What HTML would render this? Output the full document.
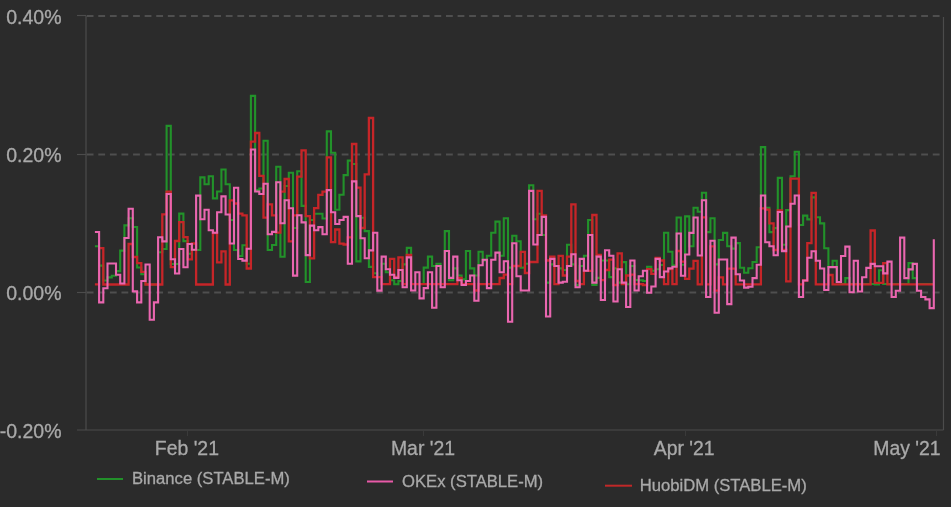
<!DOCTYPE html>
<html><head><meta charset="utf-8">
<style>
html,body{margin:0;padding:0;background:#2b2b2b;}
body{width:951px;height:507px;overflow:hidden;}
svg{display:block;filter:blur(0.3px);}
text{font-family:"Liberation Sans",sans-serif;fill:#a9a9a9;stroke:#a9a9a9;stroke-width:0.3px;}
.t{will-change:transform;}
</style></head><body>
<svg width="951" height="507" viewBox="0 0 951 507">
<rect width="951" height="507" fill="#2b2b2b"/>
<g stroke="#4f4f4f" stroke-width="2" stroke-dasharray="6.8 4.79" fill="none">
<line x1="86.7" y1="16" x2="943" y2="16"/>
<line x1="86.7" y1="154.5" x2="943" y2="154.5"/>
<line x1="86.7" y1="292.5" x2="943" y2="292.5"/>
</g>
<g stroke="#4c4c4c" stroke-width="1.2" fill="none">
<line x1="86" y1="16" x2="86" y2="430"/>
<line x1="77" y1="430" x2="943.5" y2="430"/>
<line x1="943.5" y1="17" x2="943.5" y2="430"/>
<line x1="77" y1="15.5" x2="86" y2="15.5"/>
<line x1="77" y1="154.5" x2="86" y2="154.5"/>
<line x1="77" y1="292.5" x2="86" y2="292.5"/>
</g>
<g stroke="#3a3a3a" stroke-width="1" fill="none">
<line x1="187.5" y1="431" x2="187.5" y2="436"/>
<line x1="423.5" y1="431" x2="423.5" y2="436"/>
<line x1="685.5" y1="431" x2="685.5" y2="436"/>
<line x1="936.5" y1="431" x2="936.5" y2="436"/>
</g>
<!--LINES--><path d="M94.9,246.2H99.1V265.6H103.3V280.5H107.5V277.4H111.8V275.8H116.0V271.1H120.2V250.6H124.4V225.4H128.6V218.3H132.8V227.0H137.1V267.5H141.3V274.2H145.5V284.3H149.7V284.5H153.9V284.5H158.1V252.2H162.3V249.0H166.6V125.9H170.8V264.0H175.0V264.0H179.2V213.6H183.4V241.1H187.6V253.7H191.9V250.0H196.1V250.0H200.3V177.4H204.5V184.2H208.7V176.3H212.9V198.4H217.1V191.5H221.4V169.5H225.6V184.2H229.8V220.0H234.0V250.0H238.2V256.0H242.4V245.3H246.7V263.8H250.9V95.9H255.1V190.0H259.3V188.5H263.5V140.8H267.7V250.0H272.0V245.0H276.2V166.8H280.4V256.7H284.6V186.0H288.8V172.7H293.0V228.0H297.2V171.2H301.5V205.9H305.7V282.0H309.9V220.0H314.1V213.7H318.3V213.7H322.5V218.5H326.8V131.4H331.0V152.7H335.2V209.8H339.4V194.8H343.6V175.1H347.8V160.6H352.0V164.0H356.3V261.4H360.5V217.7H364.7V231.1H368.9V266.9H373.1V273.2H377.3V277.0H381.6V263.7H385.8V272.3H390.0V280.2H394.2V284.2H398.4V281.0H402.6V264.4H406.8V247.9H411.1V284.0H415.3V284.0H419.5V284.0H423.7V267.6H427.9V256.6H432.1V266.0H436.4V263.7H440.6V284.0H444.8V231.1H449.0V280.2H453.2V268.4H457.4V275.5H461.6V279.4H465.9V251.0H470.1V268.4H474.3V275.5H478.5V251.8H482.7V260.5H486.9V255.8H491.2V232.7H495.4V221.6H499.6V255.8H503.8V218.2H508.0V267.6H512.2V235.8H516.4V241.3H520.7V267.6H524.9V263.7H529.1V185.3H533.3V219.3H537.5V213.7H541.7V235.0H546.0V282.6H550.2V264.4H554.4V266.0H558.6V268.4H562.8V270.0H567.0V244.7H571.3V264.4H575.5V285.0H579.7V266.0H583.9V255.8H588.1V220.0H592.3V285.0H596.5V277.9H600.8V260.5H605.0V260.5H609.2V277.1H613.4V268.4H617.6V282.6H621.8V262.1H626.1V284.2H630.3V266.0H634.5V280.0H638.7V280.2H642.9V281.0H647.1V266.8H651.3V270.8H655.6V269.2H659.8V265.0H664.0V232.7H668.2V251.8H672.4V265.2H676.6V217.5H680.9V264.7H685.1V216.4H689.3V246.3H693.5V207.7H697.7V211.7H701.9V192.8H706.1V232.1H710.4V218.3H714.6V264.4H718.8V240.0H723.0V232.9H727.2V246.3H731.4V248.6H735.7V243.1H739.9V267.8H744.1V272.8H748.3V268.2H752.5V262.0H756.7V247.3H760.9V147.1H765.2V207.7H769.4V232.1H773.6V228.1H777.8V177.9H782.0V244.7H786.2V210.1H790.5V176.3H794.7V151.8H798.9V225.0H803.1V215.6H807.3V219.4H811.5V197.4H815.8V217.2H820.0V223.4H824.2V248.2H828.4V267.0H832.6V260.8H836.8V282.0H841.0V284.0H845.3V278.1H849.5V284.0H853.7V284.0H857.9V284.0H862.1V284.0H866.3V284.0H870.6V284.0H874.8V284.4H879.0V270.2H883.2V284.0H887.4V284.0H891.6V284.0H895.8V284.0H900.1V284.0H904.3V284.0H908.5V263.1H912.7V278.1H916.9V284.0H921.1V284.0H925.4V284.0H929.6V284.0H933.8V284.0" stroke="#22922a" stroke-width="2.1" fill="none"/>
<path d="M94.9,284.3H99.1V248.2H103.3V284.5H107.5V284.5H111.8V284.5H116.0V284.5H120.2V284.5H124.4V284.5H128.6V244.0H132.8V257.0H137.1V263.2H141.3V271.9H145.5V284.5H149.7V284.5H153.9V284.5H158.1V284.5H162.3V214.4H166.6V191.7H170.8V267.2H175.0V241.0H179.2V222.2H183.4V237.2H187.6V259.3H191.9V243.5H196.1V284.5H200.3V284.5H204.5V284.5H208.7V284.5H212.9V233.0H217.1V262.4H221.4V251.4H225.6V284.5H229.8V200.3H234.0V203.5H238.2V213.7H242.4V215.3H246.7V268.5H250.9V141.6H255.1V133.0H259.3V175.9H263.5V217.7H267.7V204.3H272.0V215.3H276.2V232.7H280.4V191.7H284.6V179.0H288.8V241.3H293.0V215.3H297.2V176.7H301.5V150.3H305.7V216.1H309.9V258.3H314.1V208.2H318.3V194.8H322.5V191.7H326.8V157.4H331.0V242.1H335.2V229.5H339.4V243.7H343.6V244.5H347.8V237.4H352.0V144.0H356.3V187.7H360.5V228.0H364.7V174.3H368.9V118.0H373.1V277.2H377.3V277.2H381.6V284.2H385.8V284.2H390.0V258.9H394.2V277.0H398.4V257.4H402.6V284.2H406.8V255.0H411.1V284.2H415.3V284.2H419.5V284.2H423.7V284.2H427.9V284.2H432.1V284.2H436.4V284.2H440.6V284.2H444.8V284.2H449.0V284.2H453.2V284.2H457.4V277.9H461.6V284.2H465.9V284.2H470.1V284.2H474.3V290.5H478.5V284.2H482.7V284.2H486.9V284.2H491.2V284.2H495.4V284.2H499.6V278.0H503.8V274.7H508.0V284.2H512.2V266.0H516.4V266.0H520.7V251.8H524.9V273.0H529.1V262.0H533.3V262.0H537.5V190.9H541.7V215.3H546.0V260.5H550.2V256.6H554.4V284.2H558.6V255.8H562.8V275.5H567.0V256.6H571.3V204.3H575.5V281.0H579.7V284.2H583.9V270.8H588.1V270.8H592.3V215.0H596.5V255.0H600.8V280.2H605.0V270.0H609.2V259.7H613.4V285.0H617.6V253.4H621.8V284.2H626.1V275.5H630.3V274.7H634.5V284.2H638.7V284.2H642.9V285.0H647.1V269.2H651.3V273.9H655.6V258.0H659.8V260.5H664.0V284.2H668.2V269.2H672.4V284.2H676.6V251.0H680.9V261.6H685.1V278.9H689.3V268.7H693.5V260.8H697.7V284.4H701.9V217.3H706.1V284.4H710.4V246.4H714.6V290.7H718.8V277.3H723.0V284.4H727.2V268.7H731.4V268.7H735.7V284.4H739.9V284.4H744.1V284.4H748.3V284.4H752.5V284.4H756.7V284.4H760.9V208.4H765.2V209.7H769.4V223.4H773.6V250.0H777.8V210.5H782.0V250.0H786.2V281.3H790.5V178.6H794.7V178.6H798.9V284.4H803.1V280.5H807.3V243.1H811.5V192.8H815.8V284.4H820.0V284.4H824.2V284.4H828.4V275.0H832.6V284.4H836.8V284.4H841.0V284.4H845.3V284.4H849.5V284.4H853.7V284.4H857.9V284.4H862.1V284.4H866.3V284.4H870.6V230.5H874.8V282.9H879.0V282.9H883.2V263.1H887.4V284.4H891.6V284.4H895.8V284.4H900.1V284.4H904.3V284.4H908.5V284.4H912.7V284.4H916.9V284.4H921.1V284.4H925.4V284.4H929.6V284.4H933.8V284.4" stroke="#c62528" stroke-width="2.3" fill="none"/>
<path d="M94.9,232.0H99.1V302.4H103.3V288.2H107.5V263.5H111.8V263.5H116.0V274.8H120.2V283.5H124.4V238.0H128.6V208.7H132.8V291.4H137.1V302.4H141.3V281.0H145.5V264.5H149.7V319.8H153.9V302.4H158.1V237.2H162.3V241.4H166.6V194.0H170.8V259.3H175.0V273.5H179.2V249.0H183.4V267.2H187.6V244.0H191.9V249.8H196.1V195.6H200.3V219.3H204.5V209.8H208.7V230.3H212.9V232.7H217.1V212.2H221.4V196.4H225.6V214.5H229.8V243.5H234.0V187.7H238.2V259.0H242.4V260.6H246.7V248.8H250.9V149.5H255.1V191.5H259.3V194.0H263.5V183.8H267.7V234.2H272.0V231.9H276.2V182.2H280.4V223.2H284.6V200.3H288.8V208.2H293.0V275.6H297.2V215.3H301.5V222.4H305.7V255.1H309.9V225.6H314.1V230.3H318.3V227.1H322.5V234.2H326.8V190.1H331.0V212.2H335.2V224.0H339.4V220.0H343.6V216.9H347.8V263.8H352.0V181.4H356.3V216.1H360.5V238.2H364.7V258.3H368.9V250.4H373.1V232.7H377.3V290.6H381.6V256.6H385.8V269.2H390.0V274.7H394.2V277.9H398.4V270.0H402.6V287.3H406.8V257.4H411.1V290.5H415.3V272.3H419.5V298.4H423.7V288.1H427.9V272.3H432.1V307.8H436.4V266.0H440.6V287.3H444.8V251.0H449.0V277.9H453.2V256.6H457.4V280.2H461.6V285.0H465.9V281.0H470.1V275.5H474.3V300.7H478.5V265.2H482.7V259.7H486.9V288.1H491.2V259.7H495.4V252.6H499.6V272.3H503.8V261.3H508.0V321.8H512.2V243.2H516.4V276.3H520.7V290.5H524.9V290.5H529.1V190.9H533.3V244.5H537.5V235.0H541.7V216.9H546.0V316.5H550.2V258.9H554.4V266.0H558.6V282.6H562.8V281.8H567.0V266.0H571.3V254.2H575.5V287.3H579.7V258.9H583.9V270.8H588.1V235.0H592.3V282.6H596.5V256.6H600.8V300.0H605.0V250.3H609.2V255.8H613.4V301.5H617.6V269.2H621.8V282.6H626.1V307.0H630.3V260.5H634.5V290.5H638.7V276.3H642.9V270.8H647.1V292.8H651.3V286.5H655.6V258.9H659.8V277.1H664.0V271.5H668.2V268.4H672.4V266.8H676.6V233.5H680.9V275.8H685.1V254.5H689.3V232.9H693.5V217.5H697.7V255.5H701.9V200.2H706.1V297.0H710.4V240.7H714.6V312.8H718.8V259.5H723.0V259.5H727.2V304.1H731.4V237.6H735.7V274.2H739.9V280.5H744.1V287.6H748.3V286.8H752.5V278.1H756.7V264.7H760.9V195.5H765.2V242.3H769.4V246.3H773.6V255.2H777.8V212.0H782.0V251.1H786.2V226.5H790.5V203.8H794.7V195.5H798.9V297.0H803.1V280.5H807.3V257.8H811.5V251.2H815.8V260.7H820.0V268.5H824.2V290.0H828.4V267.1H832.6V267.1H836.8V282.0H841.0V256.0H845.3V246.6H849.5V292.3H853.7V260.8H857.9V291.5H862.1V277.3H866.3V267.9H870.6V263.9H874.8V266.3H879.0V266.3H883.2V273.4H887.4V261.6H891.6V297.0H895.8V290.7H900.1V237.6H904.3V278.1H908.5V269.4H912.7V263.9H916.9V290.7H921.1V297.0H925.4V299.4H929.6V308.1H933.8V239.2" stroke="#ea66b0" stroke-width="2.1" fill="none"/><!--/LINES-->
<g class="t" font-size="19.5" text-anchor="end">
<text x="61.5" y="24">0.40%</text>
<text x="61.5" y="162">0.20%</text>
<text x="61.5" y="300">0.00%</text>
<text x="61.5" y="438">-0.20%</text>
</g>
<g class="t" font-size="19.4" text-anchor="middle">
<text x="186.9" y="455">Feb '21</text>
<text x="423" y="455">Mar '21</text>
<text x="684.2" y="455">Apr '21</text>
<text x="940.6" y="455" text-anchor="end">May '21</text>
</g>
<g class="t" font-size="16.65">
<line x1="97" y1="479" x2="123" y2="479" stroke="#22902a" stroke-width="2"/>
<text x="132" y="483.8">Binance (STABLE-M)</text>
<line x1="367" y1="481.5" x2="393" y2="481.5" stroke="#e85aa8" stroke-width="2"/>
<text x="402" y="486.9">OKEx (STABLE-M)</text>
<line x1="605" y1="485.7" x2="632" y2="485.7" stroke="#c02828" stroke-width="2"/>
<text x="639.7" y="490.9">HuobiDM (STABLE-M)</text>
</g>
</svg>
</body></html>
